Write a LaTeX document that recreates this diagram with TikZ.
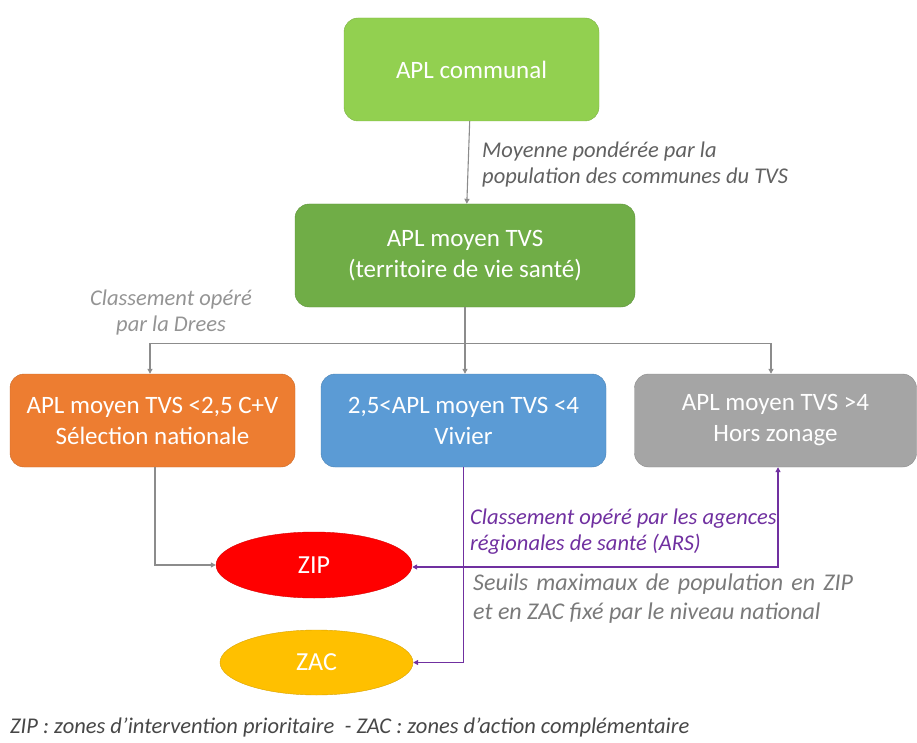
\documentclass[tikz,border=0pt]{standalone}
\usepackage{fontspec}
\setmainfont{Carlito}
\usetikzlibrary{arrows.meta}
\usetikzlibrary{shapes.geometric}

\definecolor{lightgreen}{HTML}{92D050}
\definecolor{darkgreen}{HTML}{70AD47}
\definecolor{orangebox}{HTML}{ED7D31}
\definecolor{bluebox}{HTML}{5B9BD5}
\definecolor{greybox}{HTML}{A5A5A5}
\definecolor{zipred}{HTML}{FF0000}
\definecolor{zacyellow}{HTML}{FFC000}
\definecolor{arspurple}{HTML}{7030A0}
\definecolor{linegrey}{HTML}{8C8C8C}

\begin{document}
\begin{tikzpicture}[x=1pt,y=-1pt]
    \tikzset{
      box/.style={rounded corners=14pt, text=white, align=center,
        minimum height=93pt, font=\fontsize{25}{31}\selectfont},
      zone/.style={ellipse, text=white, minimum width=196pt,
        minimum height=66pt, font=\fontsize{26}{30}\selectfont},
      note/.style={text=linegrey, align=left, inner sep=0pt,
        font=\fontsize{22.5}{26}\selectfont\itshape},
      grey line/.style={draw=linegrey, line width=1.1pt,
        -{Triangle[length=5pt,width=5pt]}},
      purple line/.style={draw=arspurple, line width=1.3pt,
        -{Triangle[length=5pt,width=5pt]}},
    }
    \useasboundingbox (0,0) rectangle (917,743);

    \node[box, fill=lightgreen, draw=lightgreen!85!black, minimum width=255pt, minimum height=103pt] (communal) at (471.5,69.5) {APL communal};
    \node[box, fill=darkgreen, draw=darkgreen!85!black, minimum width=340pt, minimum height=103pt] (tvs) at (465,255.5) {APL moyen TVS\\(territoire de vie santé)};
    \node[box, fill=orangebox, draw=orangebox!85!black, minimum width=285pt] (low) at (152.5,420.5) {APL moyen TVS <2,5 C+V\\Sélection nationale};
    \node[box, fill=bluebox, draw=bluebox!85!black, minimum width=285pt] (mid) at (463.5,420.5) {2,5<APL moyen TVS <4\\Vivier};
    \node[box, fill=greybox, draw=greybox!85!black, minimum width=282pt] (high) at (775.5,420.5) {APL moyen TVS >4\\Hors zonage};

    \node[zone, fill=zipred, draw=zipred!85!black] (zip) at (314,565) {ZIP};
    \node[zone, fill=zacyellow, draw=zacyellow!85!black, minimum width=193pt, minimum height=65pt] (zac) at (316.5,662.5) {ZAC};

    \draw[grey line] (communal) -- (tvs);
    \draw[grey line, -] (tvs.south) -- ++(0,36) coordinate (split);
    \draw[grey line] (split) -| ([xshift=-2.5]low.north);
    \draw[grey line] (split) -- (split |- mid.north);
    \draw[grey line] (split) -| ([xshift=-4.5]high.north);
    \draw[grey line] ([xshift=2.5]low.south) |- (zip.west);

    \draw[purple line] (mid.south) |- (zac.east);
    \draw[purple line, {Triangle[length=5pt,width=5pt]}-{Triangle[length=5pt,width=5pt]}]
      ([yshift=-2]zip.east) -| ([xshift=2.5]high.south);

    % labels
    \node[note, text=black!62, anchor=north west] (mean) at (482,142) {Moyenne pondérée par la\\population des communes du TVS};
    \node[note, text=black!42, align=center] (drees) at (171,313) {Classement opéré\\par la Drees};
    \node[note, text=arspurple, anchor=north west] (ars) at (470,509) {Classement opéré par les agences\\régionales de santé (ARS)};
    \node[note, text=black!52, anchor=north west, align=justify, text width=380pt,
      font=\fontsize{24}{29}\selectfont\itshape] (seuils) at (473,574) {Seuils maximaux de population en ZIP\linebreak et en ZAC fixé par le niveau national};
    \node[note, text=black!72, anchor=west, font=\fontsize{22.5}{26}\selectfont\itshape] (legend) at (10,727) {ZIP : zones d’intervention prioritaire \ - ZAC : zones d’action complémentaire};
\end{tikzpicture}
\end{document}
